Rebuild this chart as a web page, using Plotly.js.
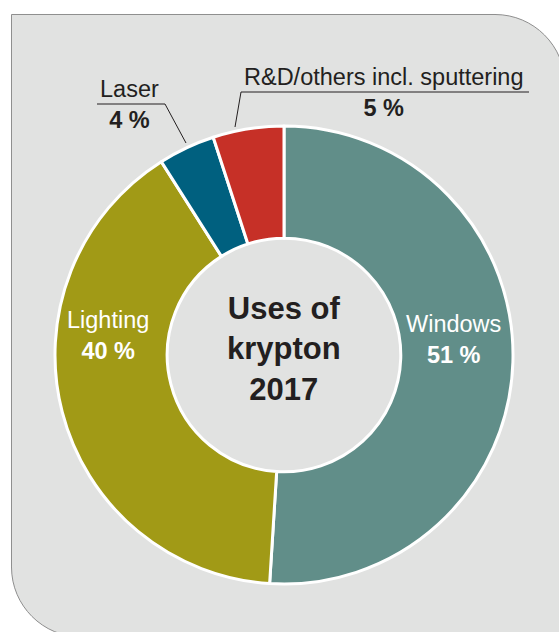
<!DOCTYPE html>
<html>
<head>
<meta charset="utf-8">
<script src="https://cdn.plot.ly/plotly-3.0.1.min.js"></script>
<style>html,body{margin:0;padding:0;background:#fff;}</style>
</head>
<body>
<div id="chart" style="width:559px;height:632px;"></div>
<script>
const categories = ["Windows", "Lighting", "Laser", "R&D/others incl. sputtering"];
const values = [51, 40, 4, 5];
const colors = ["#618e89", "#a19a16", "#00607f", "#c63027"];
const titleText = "Uses of<br>krypton<br>2017";

const W = 559, H = 632;
const fx = x => x / W;
const fy = y => 1 - y / H;
const pt = (x, y) => fx(x).toFixed(5) + "," + fy(y).toFixed(5);

// Donut geometry (pixels)
const cx = 284, cy = 355, R = 229;

// panel outline with rounded top-right and bottom-left corners
const r = 70, k = 0.5523 * r;
const L = 11.5, T = 14.5, Rt = 565, B = 637;
const panelPath =
  "M " + pt(L, T) +
  " L " + pt(Rt - r, T) +
  " C " + pt(Rt - r + k, T) + " " + pt(Rt, T + r - k) + " " + pt(Rt, T + r) +
  " L " + pt(Rt, B) +
  " L " + pt(L + r, B) +
  " C " + pt(L + r - k, B) + " " + pt(L, B - r + k) + " " + pt(L, B - r) +
  " Z";

const labelText = (i) => categories[i] + "<br><b>" + values[i] + " %</b>";

const data = [{
  type: "pie",
  values: values,
  labels: categories,
  marker: { colors: colors, line: { color: "#ffffff", width: 3 } },
  hole: 0.51,
  sort: false,
  direction: "clockwise",
  rotation: 0,
  textinfo: "none",
  hoverinfo: "label+percent",
  showlegend: false,
  domain: { x: [fx(cx - R), fx(cx + R)], y: [fy(cy + R), fy(cy - R)] }
}];

const font = "Liberation Sans";
const dark = "#231f20";
const lblSize = 23.5;

const annotations = [
  { x: fx(cx), y: fy(349), text: "<b>" + titleText + "</b>", showarrow: false,
    font: { family: font, size: 31, color: dark } },
  { x: fx(453), y: fy(339), text: labelText(0), showarrow: false,
    font: { family: font, size: lblSize, color: "#ffffff" } },
  { x: fx(108), y: fy(335), text: labelText(1), showarrow: false,
    font: { family: font, size: lblSize, color: "#ffffff" } },
  { x: fx(129), y: fy(104), text: labelText(2), showarrow: false,
    font: { family: font, size: lblSize, color: dark } },
  { x: fx(384), y: fy(92), text: labelText(3), showarrow: false,
    font: { family: font, size: lblSize, color: dark } }
].map(a => Object.assign({ xref: "paper", yref: "paper", xanchor: "center", yanchor: "middle" }, a));

const lineStyle = { color: "#231f20", width: 1 };
const shapes = [
  { type: "path", path: panelPath, xref: "paper", yref: "paper", layer: "below",
    fillcolor: "#e1e2e1", line: { color: "#8e8e8e", width: 1 } },
  // Laser leader
  { type: "line", xref: "paper", yref: "paper", x0: fx(97), y0: fy(104), x1: fx(165), y1: fy(104), line: lineStyle },
  { type: "line", xref: "paper", yref: "paper", x0: fx(165), y0: fy(104), x1: fx(186), y1: fy(143), line: lineStyle },
  // R&D leader
  { type: "line", xref: "paper", yref: "paper", x0: fx(241), y0: fy(92), x1: fx(529), y1: fy(92), line: lineStyle },
  { type: "line", xref: "paper", yref: "paper", x0: fx(241), y0: fy(92), x1: fx(235), y1: fy(127), line: lineStyle }
];

const layout = {
  width: W, height: H,
  margin: { l: 0, r: 0, t: 0, b: 0 },
  paper_bgcolor: "#ffffff",
  plot_bgcolor: "rgba(0,0,0,0)",
  showlegend: false,
  shapes: shapes,
  annotations: annotations,
  font: { family: font }
};

Plotly.newPlot("chart", data, layout, { displayModeBar: false, staticPlot: true });
</script>
</body>
</html>
